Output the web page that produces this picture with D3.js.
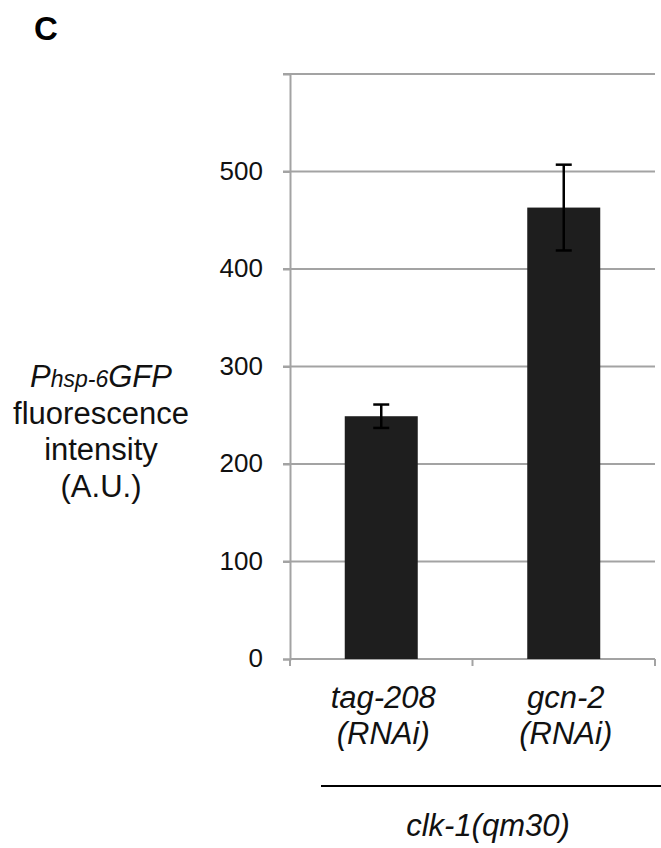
<!DOCTYPE html>
<html>
<head>
<meta charset="utf-8">
<script src="https://cdn.jsdelivr.net/npm/d3@7"></script>
<style>
  body { margin: 0; background: #fff; }
  text { font-family: "Liberation Sans", Arial, sans-serif; }
</style>
</head>
<body>
<div id="graph"></div>
<script>
const categories = ['tag-208', 'gcn-2'];
const values = [249, 463];
const errors = [12, 44];
const yTicks = [0, 100, 200, 300, 400, 500];
const gridLines = [100, 200, 300, 400, 500, 600];
const groupLabel = 'clk-1(qm30)';

const width = 661;
const height = 848;
const plotLeft = 290, plotRight = 655, plotTop = 74, plotBottom = 659;

const svg = d3.select('#graph')
    .append('svg')
    .attr('width', width)
    .attr('height', height);

const xScale = d3.scaleBand()
    .domain(categories)
    .range([plotLeft, plotRight])
    .paddingInner(0)
    .paddingOuter(0);

const yScale = d3.scaleLinear()
    .domain([0, 600])
    .range([plotBottom, plotTop]);

// gridlines
svg.append('g')
    .selectAll('line')
    .data(gridLines)
    .enter()
    .append('line')
    .attr('x1', plotLeft - 7)
    .attr('x2', plotRight)
    .attr('y1', d => yScale(d))
    .attr('y2', d => yScale(d))
    .attr('stroke', '#a3a3a3')
    .attr('stroke-width', 2);

// y axis
const yAxis = svg.append('g')
    .attr('transform', `translate(${plotLeft}, 0)`)
    .call(d3.axisLeft(yScale).tickValues(yTicks).tickSize(7).tickPadding(20));
yAxis.select('.domain').attr('stroke', '#a3a3a3').attr('stroke-width', 2);
yAxis.selectAll('.tick line').attr('stroke', '#a3a3a3').attr('stroke-width', 2);
yAxis.selectAll('.tick text')
    .attr('font-size', 26)
    .attr('dy', '0.3em')
    .attr('fill', '#111')
    .style('font-family', '"Liberation Sans", Arial, sans-serif');

// x axis
const xAxis = svg.append('g')
    .attr('transform', `translate(0, ${plotBottom})`);
xAxis.append('line')
    .attr('x1', plotLeft).attr('x2', plotRight)
    .attr('stroke', '#a3a3a3').attr('stroke-width', 2);
xAxis.selectAll('.xt')
    .data([plotLeft].concat(categories.map(c => xScale(c) + xScale.bandwidth())))
    .enter()
    .append('line')
    .attr('class', 'xt')
    .attr('x1', d => d).attr('x2', d => d)
    .attr('y1', 0).attr('y2', 7)
    .attr('stroke', '#a3a3a3').attr('stroke-width', 2);

// bars
const barWidth = xScale.bandwidth() * 0.4;
svg.append('g')
    .selectAll('rect')
    .data(values)
    .enter()
    .append('rect')
    .attr('x', (d, i) => xScale(categories[i]) + xScale.bandwidth() / 2 - barWidth / 2)
    .attr('y', d => yScale(d))
    .attr('width', barWidth)
    .attr('height', d => yScale(0) - yScale(d))
    .attr('fill', '#1e1e1e');

// error bars
const errG = svg.append('g').attr('stroke', '#000').attr('stroke-width', 2.5);
values.forEach((v, i) => {
    const cx = xScale(categories[i]) + xScale.bandwidth() / 2;
    errG.append('line')
        .attr('x1', cx).attr('x2', cx)
        .attr('y1', yScale(v + errors[i])).attr('y2', yScale(v - errors[i]));
    [v + errors[i], v - errors[i]].forEach(e => {
        errG.append('line')
            .attr('x1', cx - 8).attr('x2', cx + 8)
            .attr('y1', yScale(e)).attr('y2', yScale(e));
    });
});

// category labels
categories.forEach(c => {
    const cx = xScale(c) + xScale.bandwidth() / 2 + 2;
    const t = svg.append('text')
        .attr('text-anchor', 'middle')
        .attr('font-size', 31)
        .attr('font-style', 'italic')
        .attr('fill', '#111');
    t.append('tspan').attr('x', cx).attr('y', 708).text(c);
    t.append('tspan').attr('x', cx).attr('y', 744).text('(RNAi)');
});

// group line + label
svg.append('line')
    .attr('x1', 321).attr('x2', 661)
    .attr('y1', 786).attr('y2', 786)
    .attr('stroke', '#000').attr('stroke-width', 2);
svg.append('text')
    .attr('x', 488).attr('y', 836)
    .attr('text-anchor', 'middle')
    .attr('font-size', 31)
    .attr('font-style', 'italic')
    .attr('fill', '#111')
    .text(groupLabel);

// y label
const yl = svg.append('text')
    .attr('text-anchor', 'middle')
    .attr('font-size', 31)
    .attr('fill', '#111');
const l1 = yl.append('tspan').attr('x', 101).attr('y', 387).attr('font-style', 'italic');
l1.append('tspan').text('P');
l1.append('tspan').attr('font-size', 23).text('hsp-6');
l1.append('tspan').text('GFP');
yl.append('tspan').attr('x', 101).attr('y', 424).text('fluorescence');
yl.append('tspan').attr('x', 101).attr('y', 460).text('intensity');
yl.append('tspan').attr('x', 101).attr('y', 497).text('(A.U.)');

// panel letter
svg.append('text')
    .attr('x', 34).attr('y', 40)
    .attr('font-size', 33)
    .attr('font-weight', 'bold')
    .attr('fill', '#000')
    .text('C');
</script>
</body>
</html>
